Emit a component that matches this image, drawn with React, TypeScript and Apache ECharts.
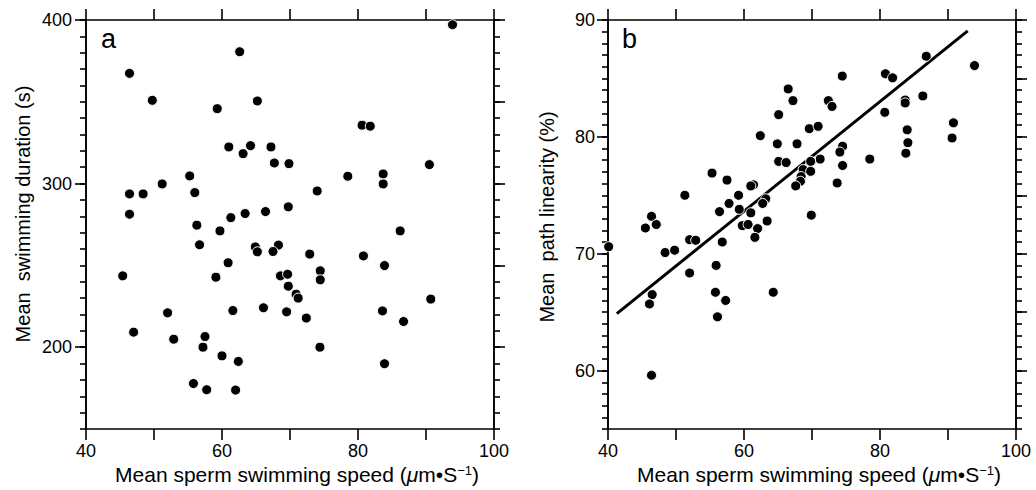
import React, { useEffect, useRef } from 'react';
import * as echarts from 'echarts';

// Panel a: mean sperm swimming speed (µm/s) vs mean swimming duration (s)
const speedA = [
  62.6, 46.4, 49.75, 59.3, 65.2, 61.0, 63.1, 64.2, 55.25, 51.2,
  46.4, 48.4, 56.0, 46.4, 56.3, 61.3, 63.4, 59.7, 56.7, 64.9,
  65.2, 93.9, 80.6, 81.8, 67.2, 67.7, 69.85, 90.5, 78.5, 83.7,
  83.7, 74.0, 66.4, 69.75, 86.2, 68.3, 67.5, 72.9, 80.8, 83.9,
  68.6, 69.65, 69.75, 74.45, 74.45, 70.9, 71.2, 90.7, 66.1, 69.5,
  72.4, 83.6, 86.7, 74.4, 83.9, 60.9, 59.1, 45.4, 61.6, 52.0,
  47.0, 52.9, 57.5, 57.2, 60.0, 62.4, 55.8, 57.75, 62.0
];
const durationA = [
  380.6, 367.4, 350.9, 345.8, 350.5, 322.4, 318.3, 323.2, 304.7, 299.8,
  293.7, 293.7, 294.5, 281.3, 274.6, 279.2, 281.7, 271.1, 262.6, 261.3,
  258.3, 397.1, 335.7, 335.1, 322.4, 312.6, 312.2, 311.6, 304.5, 305.9,
  299.8, 295.5, 282.9, 285.8, 271.1, 262.4, 258.5, 256.9, 255.8, 249.9,
  243.6, 244.6, 237.3, 246.7, 241.2, 232.4, 230.0, 229.4, 224.1, 221.6,
  217.8, 222.2, 215.7, 200.0, 189.9, 251.6, 242.8, 243.6, 222.4, 221.0,
  209.2, 204.9, 206.5, 200.0, 194.7, 191.3, 177.8, 174.0, 173.8
];

// Panel b: mean sperm swimming speed vs mean path linearity (%)
const speedB = [
  40.1, 65.1, 62.4, 64.9, 65.1, 55.3, 57.5, 61.4, 61.0, 59.2,
  51.3, 63.2, 57.8, 62.75, 56.4, 59.3, 61.0, 46.4, 47.1, 45.5,
  59.75, 60.6, 63.4, 62.0, 61.6, 56.8, 52.0, 52.9, 48.4, 49.8,
  52.0, 55.9, 46.5, 46.1, 55.8, 57.3, 56.1, 64.3, 46.4, 86.8,
  93.9, 80.8, 81.85, 74.45, 66.5, 67.2, 72.4, 72.95, 86.3, 83.7,
  83.7, 80.7, 90.8, 90.6, 84.0, 84.1, 83.8, 69.6, 70.9, 67.8,
  74.5, 74.1, 74.5, 66.2, 71.2, 69.8, 78.5, 68.7, 69.8, 68.4,
  68.3, 67.6, 73.7, 69.9
];
const linearityB = [
  70.6, 81.9, 80.1, 79.4, 77.9, 76.9, 76.3, 75.9, 75.8, 75.0,
  75.0, 74.7, 74.3, 74.3, 73.6, 73.8, 73.5, 73.2, 72.5, 72.2,
  72.4, 72.5, 72.8, 72.15, 71.4, 71.0, 71.2, 71.15, 70.1, 70.3,
  68.35, 69.0, 66.5, 65.7, 66.7, 66.0, 64.6, 66.7, 59.6, 86.9,
  86.1, 85.4, 85.05, 85.2, 84.1, 83.1, 83.1, 82.6, 83.5, 83.15,
  82.9, 82.1, 81.2, 79.9, 80.6, 79.5, 78.6, 80.7, 80.9, 79.4,
  79.2, 78.7, 77.55, 77.8, 78.1, 77.9, 78.1, 77.2, 77.05, 76.6,
  76.2, 75.8, 76.05, 73.3
];

// Regression line in panel b
const fitX = [41.3, 92.9];
const fitIntercept = 45.5;
const fitSlope = 0.469;

const xTickLabels = [40, 60, 80, 100];
const yTickLabelsA = [200, 300, 400];
const yMajorRightA = [200, 250, 300, 350, 400];
const yTickLabelsB = [60, 70, 80, 90];
const yMajorRightB = [60, 65, 70, 75, 80, 85, 90];

const FONT = '"Liberation Sans", Arial, Helvetica, sans-serif';
const LINE = { color: '#000', width: 1.6 };

function xAxes(gridIndex: number) {
  const base = {
    type: 'value', gridIndex, min: 40, max: 100, interval: 10,
    splitLine: { show: false },
    axisLine: { show: true, onZero: false, lineStyle: LINE },
    axisTick: { show: true, inside: false, length: 11, lineStyle: LINE },
  };
  return [
    {
      ...base, position: 'bottom',
      axisLabel: {
        show: true, customValues: xTickLabels, margin: 13,
        color: '#000', fontSize: 18, fontFamily: FONT,
      },
    },
    { ...base, position: 'top', axisLabel: { show: false } },
  ];
}

function yAxes(gridIndex: number, min: number, max: number, minorInt: number,
  labels: number[], rightMajors: number[], labelMargin: number) {
  const base = {
    type: 'value', gridIndex, min, max,
    splitLine: { show: false },
    axisLine: { show: true, onZero: false, lineStyle: LINE },
  };
  return [
    {
      ...base, position: 'left', interval: minorInt,
      axisTick: { show: true, length: 6, lineStyle: LINE },
      axisLabel: { show: false },
    },
    {
      ...base, position: 'left',
      axisTick: { show: true, length: 11, customValues: labels, lineStyle: LINE },
      axisLabel: {
        show: true, customValues: labels, margin: labelMargin,
        color: '#000', fontSize: 18, fontFamily: FONT,
      },
    },
    {
      ...base, position: 'right', interval: minorInt,
      axisTick: { show: true, length: 6, lineStyle: LINE },
      axisLabel: { show: false },
    },
    {
      ...base, position: 'right',
      axisTick: { show: true, length: 11, customValues: rightMajors, lineStyle: LINE },
      axisLabel: { show: false },
    },
  ];
}

const titleRich = {
  i: { fontStyle: 'italic', fontSize: 21, fontFamily: FONT, color: '#000' },
  s: { fontSize: 13, fontFamily: FONT, color: '#000', verticalAlign: 'top', lineHeight: 12 },
};

export default function App() {
  const ref = useRef<HTMLDivElement>(null);

  useEffect(() => {
    if (!ref.current) return;
    const chart = echarts.init(ref.current, undefined, { renderer: 'svg' });

    const dataA = speedA.map((x, i) => [x, durationA[i]]);
    const dataB = speedB.map((x, i) => [x, linearityB[i]]);
    const fitData = fitX.map((x) => [x, fitIntercept + fitSlope * x]);

    const marker = {
      type: 'scatter', symbol: 'circle', symbolSize: 10,
      itemStyle: { color: '#000', borderColor: '#fff', borderWidth: 1, opacity: 1 },
      clip: true,
    };

    chart.setOption({
      animation: false,
      backgroundColor: '#fff',
      grid: [
        { left: 86, top: 20, width: 408, height: 409 },
        { left: 608, top: 20, width: 408, height: 409 },
      ],
      xAxis: [...xAxes(0), ...xAxes(1)],
      yAxis: [
        ...yAxes(0, 150, 400, 10, yTickLabelsA, yMajorRightA, 14),
        ...yAxes(1, 55, 90, 1, yTickLabelsB, yMajorRightB, 13),
      ],
      series: [
        { ...marker, name: 'a', xAxisIndex: 0, yAxisIndex: 0, data: dataA },
        { ...marker, name: 'b', xAxisIndex: 2, yAxisIndex: 4, data: dataB },
        {
          type: 'line', name: 'fit', xAxisIndex: 2, yAxisIndex: 4, data: fitData,
          symbol: 'none', lineStyle: { color: '#000', width: 3 }, z: 1,
        },
      ],
      graphic: [
        {
          type: 'text', left: 101, top: 25,
          style: { text: 'a', fontSize: 27, fontFamily: FONT, fill: '#000' },
        },
        {
          type: 'text', left: 622, top: 25,
          style: { text: 'b', fontSize: 27, fontFamily: FONT, fill: '#000' },
        },
        {
          type: 'text', x: 23, y: 214, rotation: Math.PI / 2,
          style: {
            text: 'Mean  swimming duration (s)', fontSize: 20, fontFamily: FONT,
            fill: '#000', align: 'center', verticalAlign: 'middle',
          },
        },
        {
          type: 'text', x: 547, y: 217, rotation: Math.PI / 2,
          style: {
            text: 'Mean  path linearity (%)', fontSize: 20, fontFamily: FONT,
            fill: '#000', align: 'center', verticalAlign: 'middle',
          },
        },
        {
          type: 'text', x: 297, y: 474,
          style: {
            text: 'Mean sperm swimming speed ({i|μ}m•S{s|−1})', rich: titleRich,
            fontSize: 21, fontFamily: FONT, fill: '#000', align: 'center', verticalAlign: 'middle',
          },
        },
        {
          type: 'text', x: 819, y: 474,
          style: {
            text: 'Mean sperm swimming speed ({i|μ}m•S{s|−1})', rich: titleRich,
            fontSize: 21, fontFamily: FONT, fill: '#000', align: 'center', verticalAlign: 'middle',
          },
        },
      ],
    });

    return () => chart.dispose();
  }, []);

  return (
    <div
      ref={ref}
      style={{ position: 'absolute', left: 0, top: 0, width: 1036, height: 490, background: '#fff' }}
    />
  );
}
